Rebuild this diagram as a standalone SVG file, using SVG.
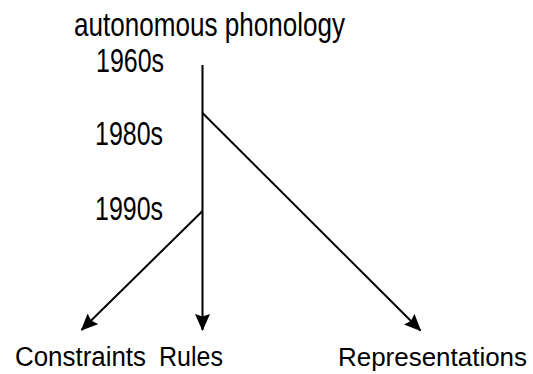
<svg xmlns="http://www.w3.org/2000/svg" width="533" height="374" viewBox="0 0 533 374">
<style>
text{font-family:"Liberation Sans",Arial,sans-serif;fill:#000;}
.t{font-size:33px;}
.b{font-size:27px;}
.r{font-size:26.5px;}
.c{stroke:#000;stroke-width:2;fill:none;}
</style>
<defs>
<marker id="ah" markerUnits="userSpaceOnUse" viewBox="0 0 17 15" refX="16" refY="7.5" markerWidth="17" markerHeight="15" orient="auto">
<path d="M0,0 L17,7.5 L0,15 L2.5,7.5 Z" fill="#000"/>
</marker>
</defs>
<rect width="533" height="374" fill="#fff"/>
<g id="labels">
<g id="n-top"><text class="t" x="74" y="36" textLength="271" lengthAdjust="spacingAndGlyphs">autonomous phonology</text></g>
<g id="n-1960"><text class="t" x="96" y="71.5" textLength="68" lengthAdjust="spacingAndGlyphs">1960s</text></g>
<g id="n-1980"><text class="t" x="95" y="145" textLength="68" lengthAdjust="spacingAndGlyphs">1980s</text></g>
<g id="n-1990"><text class="t" x="95" y="220" textLength="68" lengthAdjust="spacingAndGlyphs">1990s</text></g>
<g id="n-constraints"><text class="b" x="15" y="366" textLength="131" lengthAdjust="spacingAndGlyphs">Constraints</text></g>
<g id="n-rules"><text class="b" x="159" y="366" textLength="64" lengthAdjust="spacingAndGlyphs">Rules</text></g>
<g id="n-representations"><text class="r" x="338" y="366" textLength="189" lengthAdjust="spacingAndGlyphs">Representations</text></g>
</g>
<g id="connectors">
<line class="c" x1="202.5" y1="65" x2="202.5" y2="330" marker-end="url(#ah)"/>
<line class="c" x1="202.5" y1="211" x2="81.5" y2="330" marker-end="url(#ah)"/>
<line class="c" x1="202.5" y1="113" x2="420.5" y2="330.5" marker-end="url(#ah)"/>
</g>
</svg>
